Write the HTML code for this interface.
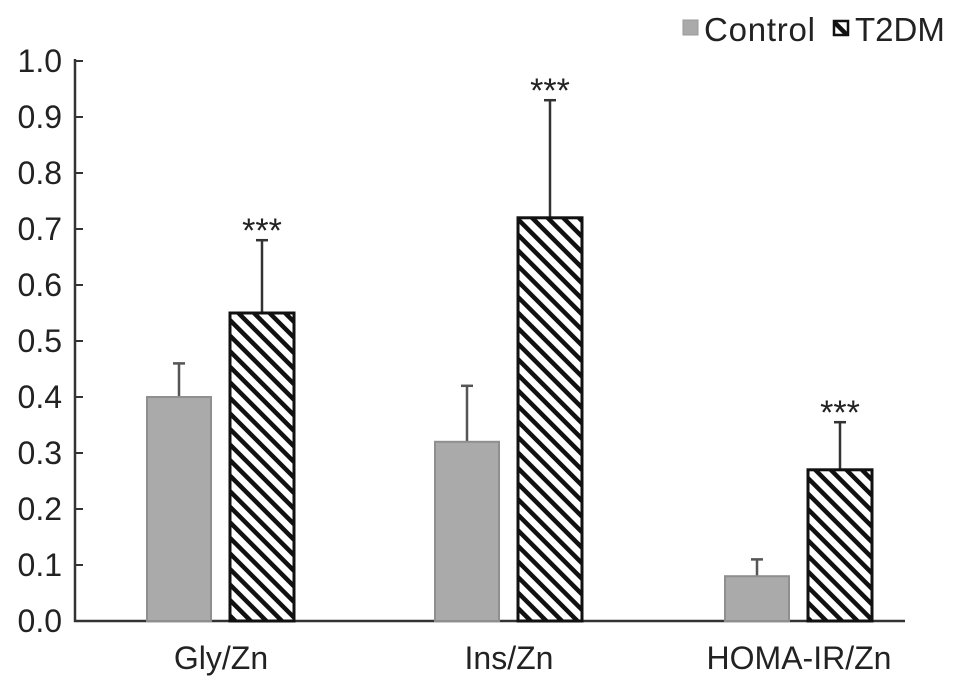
<!DOCTYPE html>
<html><head><meta charset="utf-8"><style>
body{margin:0;background:#fff}
svg text{font-family:"Liberation Sans",Arial,sans-serif;fill:#222}
</style></head><body>
<svg width="969" height="693">
<defs>
<pattern id="hatch" patternUnits="userSpaceOnUse" width="11" height="11" patternTransform="rotate(-45)">
<rect width="11" height="11" fill="#fff"/>
<rect x="0" y="0" width="4.5" height="11" fill="#111"/>
</pattern>
</defs>
<g id="axes"></g>
<g id="bars"></g>
<g>
<rect x="683" y="20" width="15" height="15" fill="#aaa" stroke="#999"/>
<text x="704" y="41" font-size="33" textLength="111">Control</text>
<rect x="834" y="21" width="14" height="14" fill="url(#hatch)" stroke="#111" stroke-width="2.5"/>
<text x="855" y="41" font-size="33">T2DM</text>
</g>
</svg>
<script>
const categories=["Gly/Zn","Ins/Zn","HOMA-IR/Zn"];
const controlValues=[0.40,0.32,0.08];
const controlErr=[0.06,0.10,0.03];
const t2dmValues=[0.55,0.72,0.27];
const t2dmErr=[0.13,0.21,0.085];
const sig=["***","***","***"];
const yTicks=[0,0.1,0.2,0.3,0.4,0.5,0.6,0.7,0.8,0.9,1.0];
const NS="http://www.w3.org/2000/svg";
const y0=621,yTop=61,axX=75;
function y(v){return y0-(y0-yTop)*v;}
const groupCenters=[221,509,799];
function x(i){return groupCenters[i];}
function mk(tag,attrs,parent){const e=document.createElementNS(NS,tag);for(const k in attrs)e.setAttribute(k,attrs[k]);parent.appendChild(e);return e;}
const axes=document.getElementById('axes'),bars=document.getElementById('bars');
let a=mk('line',{x1:axX,y1:y(1.0)-2,x2:axX,y2:y0+1,stroke:'#333','stroke-width':2.5},axes);


a=mk('line',{x1:axX-1,y1:y0,x2:905,y2:y0,stroke:'#333','stroke-width':2.5},axes);


yTicks.forEach(t=>{
 const l=mk('line',{x1:axX,y1:y(t),x2:axX+8,y2:y(t),stroke:'#333','stroke-width':2},axes);
 
 
 const tx=mk('text',{x:62,y:y(t)+11,'font-size':32,'text-anchor':'end'},axes);
 tx.textContent=t.toFixed(1);
 
 
});
categories.forEach((c,i)=>{
 const cx=x(i),w=64;
 const tx=mk('text',{x:cx,y:669,'font-size':32,'text-anchor':'middle'},axes);
 tx.textContent=c;
 
 
 const cl=cx-74;
 let e=mk('line',{x1:cl+w/2,y1:y(controlValues[i]),x2:cl+w/2,y2:y(controlValues[i]+controlErr[i]),stroke:'#555','stroke-width':2.5},bars);
 
 
 e=mk('line',{x1:cl+w/2-6,y1:y(controlValues[i]+controlErr[i]),x2:cl+w/2+6,y2:y(controlValues[i]+controlErr[i]),stroke:'#555','stroke-width':2.5},bars);
 
 
 let b=mk('rect',{x:cl,y:y(controlValues[i]),width:w,height:y0-y(controlValues[i]),fill:'#aaa',stroke:'#8f8f8f','stroke-width':2},bars);
 
 
 const tl=cx+9;
 e=mk('line',{x1:tl+w/2,y1:y(t2dmValues[i]),x2:tl+w/2,y2:y(t2dmValues[i]+t2dmErr[i]),stroke:'#333','stroke-width':2.5},bars);
 
 
 e=mk('line',{x1:tl+w/2-6,y1:y(t2dmValues[i]+t2dmErr[i]),x2:tl+w/2+6,y2:y(t2dmValues[i]+t2dmErr[i]),stroke:'#333','stroke-width':2.5},bars);
 
 
 b=mk('rect',{x:tl,y:y(t2dmValues[i]),width:w,height:y0-y(t2dmValues[i]),fill:'url(#hatch)',stroke:'#111','stroke-width':3},bars);
 
 
 const s=mk('text',{x:tl+w/2,y:y(t2dmValues[i]+t2dmErr[i])+2,'font-size':34,'text-anchor':'middle','fill':'#555'},bars);
 s.textContent=sig[i];
 
 
});
</script>
</body></html>
